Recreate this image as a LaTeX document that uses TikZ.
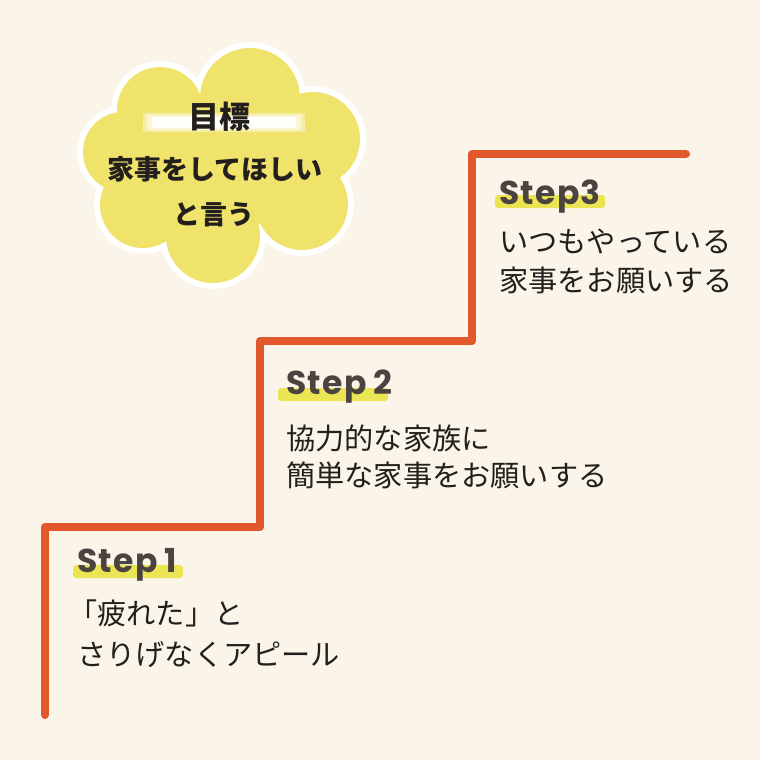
\documentclass[tikz,border=0pt]{standalone}
\usepackage{fontspec}
\newfontfamily\jpfont{Noto Sans CJK JP}
\newfontfamily\stepfont{Poppins}[LetterSpace=4]
\definecolor{paper}{HTML}{FAF4E9}
\definecolor{stairorange}{HTML}{E2572B}
\definecolor{cloudyellow}{HTML}{F0E36C}
\definecolor{hlyellow}{HTML}{E9E33A}
\definecolor{ink}{HTML}{231F1C}
\definecolor{steptext}{HTML}{4B4340}

\begin{document}
\begin{tikzpicture}[
  x=1pt, y=-1pt,
  every node/.append style={inner sep=0pt},
  stair/.style={draw=stairorange, line width=8pt, line cap=round, line join=round},
  goal/.style={font=\jpfont\bfseries\fontsize{27}{27}\selectfont, text=ink, anchor=base},
  steplabel/.style={font=\stepfont\bfseries\fontsize{33}{33}\selectfont, text=steptext, anchor=base west},
  body/.style={font=\jpfont\fontsize{29.2}{29.2}\selectfont, text=ink, anchor=base west},
  marker/.style={fill=hlyellow, opacity=0.85, rounded corners=3pt},
]

% --------------------------------------------------------------- paper
\fill[paper] (0,0) rectangle (760,760);
\useasboundingbox (0,0) rectangle (760,760);

% --------------------------------------------------------------- stairs
% Three treads, bottom left to top right; corners at the step heights.
\coordinate (foot) at (45,715);
\coordinate (tread1) at (260,527);
\coordinate (tread2) at (472,341);
\coordinate (top) at (686,154);
\draw[stair] (foot) |- (tread1) |- (tread2) |- (top);

% ---------------------------------------------------------------- cloud
% Seven lobes round a middle disc, a white rim under the yellow.
\foreach \cx/\cy/\r in {
    222/165/70, 250/98/50, 160/110/43, 123/152/40,
    143/205/43, 213/236/47, 302/204/46, 313/139/47}{
  \fill[white] (\cx,\cy) circle[radius=\r+6];
}
\foreach \cx/\cy/\r in {
    222/165/70, 250/98/50, 160/110/43, 123/152/40,
    143/205/43, 213/236/47, 302/204/46, 313/139/47}{
  \fill[cloudyellow] (\cx,\cy) circle[radius=\r];
}

% soft white bar under the heading
\fill[white, opacity=0.4] (143,113) rectangle (305,132);
\fill[white, opacity=0.5] (147,115) rectangle (301,130);
\fill[white, opacity=0.9] (152,117) rectangle (296,128);

\node[goal, font=\jpfont\bfseries\fontsize{31}{31}\selectfont] (goal) at (219,128) {目標};
\node[goal] (wish) at (215,179) {家事をしてほしい};
\node[goal] (say) at (214,224) {と言う};

% ---------------------------------------------------------------- steps
% label, highlighter stroke under it, then two lines of text
\foreach \n/\x/\ly/\hx/\hy/\ya/\yb/\la/\lb/\lab in {
    1/77/572/73/565/624/665/{\kern-9pt「疲れた」と}/{さりげなくアピール}/{Step\kern7pt 1},
    2/286/394/278/388/449/486/{協力的な家族に}/{簡単な家事をお願いする}/{Step\kern7pt 2},
    3/499/204/495/195/252/291/{いつもやっている}/{家事をお願いする}/{Step3}}{
  \fill[marker] (\hx,\hy) rectangle ++(110,13);
  \node[steplabel] (step\n) at (\x,\ly) {\lab};
  \node[body] (step\n-a) at (\x,\ya) {\la};
  \node[body] (step\n-b) at (\x,\yb) {\lb};
}

\end{tikzpicture}
\end{document}
